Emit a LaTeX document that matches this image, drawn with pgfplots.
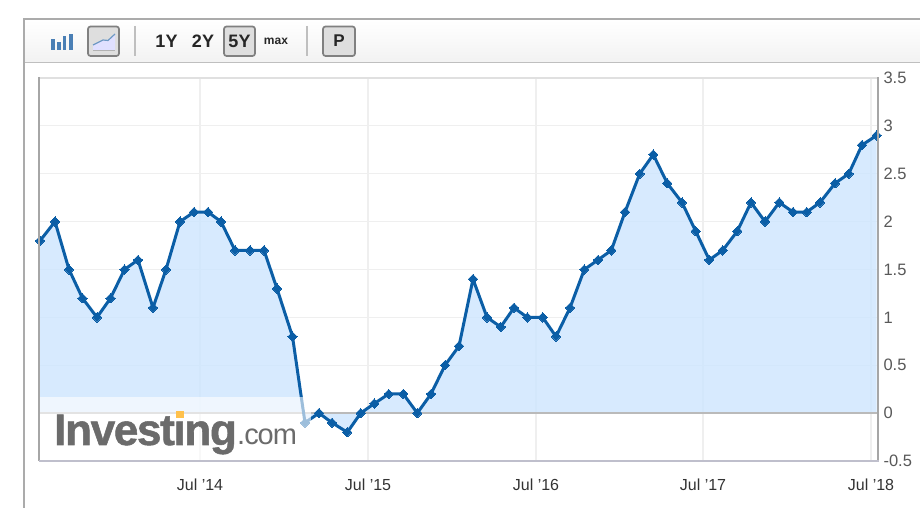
\documentclass[border=0pt]{standalone}
\usepackage{pgfplots}
\usepackage{fontspec}
\setmainfont{Liberation Sans}
\newfontfamily\logofont[FakeBold=1.2,LetterSpace=-3]{Liberation Sans Bold}
\newfontfamily\comfont[LetterSpace=-3.5]{Liberation Sans}
\pgfplotsset{compat=1.18}
\definecolor{linec}{HTML}{0B5EA6}
\definecolor{areac}{HTML}{CDE5FE}
\definecolor{gridc}{HTML}{EFEFEF}
\definecolor{iconc}{HTML}{4A7FB5}
\begin{document}
\begin{tikzpicture}[x=1pt,y=1pt]
\useasboundingbox (0,0) rectangle (920,508);
\fill[white] (0,0) rectangle (920,508);
\begin{scope}[shift={(0,508)},yscale=-1]
  % toolbar
  \shade[top color=white,bottom color=gray!10] (25,20) rectangle (920,62);
  \draw[color=black!33,line width=2pt] (920,19) -- (24,19) -- (24,508);
  \draw[color=black!25,line width=1.6pt] (25,62.5) -- (920,62.5);
  \draw[color=black!25,line width=1.5pt] (135,26) -- (135,56);
  \draw[color=black!25,line width=1.5pt] (307,26) -- (307,56);
  \foreach \a/\b in {88/119,224/255,323/355}{
    \draw[color=black!50,fill=black!13,line width=1.7pt,rounded corners=2.5pt] (\a,26.5) rectangle (\b,56);
  }
  \fill[color=iconc] (50.5,39.5) rectangle (54.5,50);
  \fill[color=iconc] (56.5,42) rectangle (60.5,50);
  \fill[color=iconc] (62.5,36) rectangle (66,50);
  \fill[color=iconc] (68.5,34.5) rectangle (73,50);
  \fill[color=blue!12] (93,45) -- (103,40) -- (108,40.5) -- (115,34) -- (115,51) -- (93,51) -- cycle;
  \draw[color=iconc!80,line width=1.2pt] (93,45) -- (103,40) -- (108,40.5) -- (115,34);
  \draw[color=black!30,line width=1pt] (93,50.5) -- (115,50.5);
  \node[text=black!85,font=\fontsize{18}{18}\selectfont\bfseries] at (166.5,41) {1Y};
  \node[text=black!85,font=\fontsize{18}{18}\selectfont\bfseries] at (203,41) {2Y};
  \node[text=black!85,font=\fontsize{18}{18}\selectfont\bfseries] at (239.5,41) {5Y};
  \node[text=black!85,font=\fontsize{12}{12}\selectfont\bfseries] at (276,41) {max};
  \node[text=black!85,font=\fontsize{17}{17}\selectfont\bfseries] at (339,40.5) {P};
\end{scope}
\begin{axis}[
  at={(39pt,47pt)},anchor=south west,
  scale only axis,width=839pt,height=383pt,
  xmin=39,xmax=878,ymin=-0.5,ymax=3.5,
  xtick={200,368,536,703,871},
  xticklabels={Jul '14,Jul '15,Jul '16,Jul '17,Jul '18},
  ytick={-0.5,0,0.5,1,1.5,2,2.5,3,3.5},
  yticklabels={-0.5,0,0.5,1,1.5,2,2.5,3,3.5},
  yticklabel pos=right,
  major tick length=0pt,
  grid=major,
  grid style={color=gridc,line width=1.2pt},
  axis line style={draw=none},
  x tick label style={font=\fontsize{16}{16}\selectfont,text=black!80,yshift=-14pt},
  y tick label style={font=\fontsize{16.5}{16.5}\selectfont,text=black!65,anchor=west,xshift=2pt},
  clip=false,
]
\addplot[fill=areac,fill opacity=0.8,draw=none,forget plot] coordinates {
(39.5,0)(40,1.8)(55,2.0)(69,1.5)(82.5,1.2)(97,1.0)(110.5,1.2)(124.5,1.5)(138,1.6)(153,1.1)(166,1.5)
(180,2.0)(194,2.1)(208,2.1)(221,2.0)(235,1.7)(250,1.7)(264,1.7)(277,1.3)(292.5,0.8)(305,-0.1)
(319,0)(332,-0.1)(347.3,-0.2)(360.7,0)(374.3,0.1)(388.7,0.2)(403.3,0.2)(417.3,0)(431,0.2)(445,0.5)
(459,0.7)(473,1.4)(487,1.0)(500.7,0.9)(514,1.1)(527.3,1.0)(542.7,1.0)(556,0.8)(570,1.1)(584.3,1.5)
(598,1.6)(611.3,1.7)(625,2.1)(639.7,2.5)(653.3,2.7)(667.3,2.4)(682,2.2)(695.7,1.9)(709.3,1.6)(722.7,1.7)
(737.3,1.9)(751,2.2)(765,2.0)(779.3,2.2)(793,2.1)(806.7,2.1)(820,2.2)(835,2.4)(848.7,2.5)(862,2.8)(876.7,2.9)(876.7,0)
} -- cycle;
\addplot[color=black!27,line width=1.5pt,forget plot] coordinates {(39,0)(878,0)};
\addplot[color=linec,line width=3pt,line join=round,mark=square*,mark size=3.3pt,mark options={fill=linec,line width=0pt,rotate=45}] coordinates {
(40,1.8)(55,2.0)(69,1.5)(82.5,1.2)(97,1.0)(110.5,1.2)(124.5,1.5)(138,1.6)(153,1.1)(166,1.5)
(180,2.0)(194,2.1)(208,2.1)(221,2.0)(235,1.7)(250,1.7)(264,1.7)(277,1.3)(292.5,0.8)(305,-0.1)
(319,0)(332,-0.1)(347.3,-0.2)(360.7,0)(374.3,0.1)(388.7,0.2)(403.3,0.2)(417.3,0)(431,0.2)(445,0.5)
(459,0.7)(473,1.4)(487,1.0)(500.7,0.9)(514,1.1)(527.3,1.0)(542.7,1.0)(556,0.8)(570,1.1)(584.3,1.5)
(598,1.6)(611.3,1.7)(625,2.1)(639.7,2.5)(653.3,2.7)(667.3,2.4)(682,2.2)(695.7,1.9)(709.3,1.6)(722.7,1.7)
(737.3,1.9)(751,2.2)(765,2.0)(779.3,2.2)(793,2.1)(806.7,2.1)(820,2.2)(835,2.4)(848.7,2.5)(862,2.8)(876.7,2.9)
};
\end{axis}
\begin{scope}[shift={(0,508)},yscale=-1]
  % plot frame
  \draw[color=black!12,line width=1.5pt] (39,78) -- (878,78);
  \draw[color=black!35,line width=1.5pt] (39,77.5) -- (39,461);
  \draw[color=black!35,line width=1.5pt] (878,77.5) -- (878,461);
  \draw[color=blue!20!black!25,line width=1.8pt] (38.5,461) -- (878.5,461);
  % watermark
  \fill[white,opacity=0.6] (39.8,397.5) rectangle (311,460);
  \node[anchor=base west,inner sep=0pt,text=black!58,font=\fontsize{44}{44}\logofont] at (54,445) {Investing};
  \node[anchor=base west,inner sep=0pt,text=black!58,font=\fontsize{29}{29}\comfont] at (237,445) {.com};
  \fill[color=orange!70!yellow!70] (176,411.5) rectangle (184,418);
\end{scope}
\end{tikzpicture}
\end{document}
